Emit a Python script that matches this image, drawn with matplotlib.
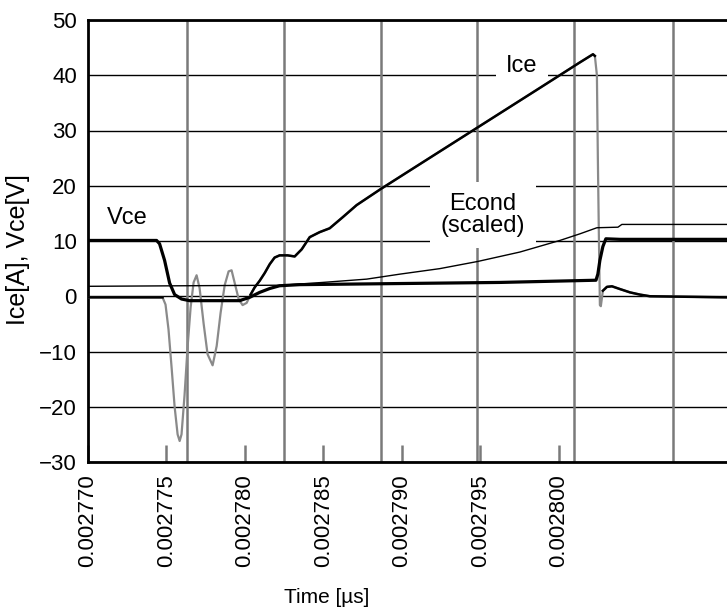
import matplotlib
matplotlib.use("Agg")
import matplotlib.pyplot as plt
import numpy as np

plt.rcParams['font.family'] = ['Liberation Sans', 'DejaVu Sans']

t0 = 0.002770  # start of the time axis

## Vce trace, time offsets in 1e-6 from t0
vce_u = [0, 4.37, 4.56, 4.88, 5.20, 5.52, 5.96, 6.47, 9.66, 10.30, 10.94, 11.58,
         12.21, 13.49, 19.87, 26.24, 32.37, 32.49, 32.62, 32.81, 33.00, 33.90, 40.72]
vce_v = [10.1, 10.1, 9.5, 6.5, 2.4, 0.3, -0.5, -0.8, -0.8, -0.2, 0.7, 1.4,
         1.9, 2.1, 2.3, 2.5, 2.9, 4.0, 6.5, 9.0, 10.4, 10.3, 10.3]

## Ice trace
ice_u = [0, 4.75, 4.94, 5.13, 5.33, 5.52, 5.71, 5.84, 5.96, 6.15, 6.35, 6.54,
         6.73, 6.92, 7.11, 7.37, 7.62, 7.94, 8.20, 8.45, 8.71, 8.96, 9.15, 9.34,
         9.60, 9.85, 10.11, 10.36, 10.62, 10.94, 11.26, 11.58, 11.89, 12.21,
         12.72, 13.17, 13.62, 14.13, 14.76, 15.40, 16.23, 17.12, 18.65, 21.14,
         23.69, 26.24, 28.79, 31.33, 32.18, 32.30, 32.43, 32.49, 32.56, 32.62,
         32.68, 32.81, 33.07, 33.39, 33.90, 34.54, 35.17, 35.81, 40.72]
ice_v = [-0.2, -0.2, -1.5, -6, -13, -20, -25, -26.2, -25, -18, -9, -2,
         2.5, 3.8, 1.5, -5, -10.5, -12.5, -9, -3, 2, 4.5, 4.7, 2.5,
         -0.5, -1.6, -1.2, 0.3, 1.6, 2.8, 4.2, 5.8, 7.0, 7.4,
         7.4, 7.2, 8.5, 10.7, 11.6, 12.3, 14.3, 16.5, 19.4, 23.9,
         28.5, 33.1, 37.7, 42.3, 43.8, 43.5, 40, 25, 10, -1.6,
         -1.8, 1.0, 1.7, 1.8, 1.3, 0.7, 0.3, 0.0, -0.2]

## Econd (scaled)
econd_u = [0, 12.40, 14.95, 17.76, 19.87, 22.42, 24.84, 27.52, 30.07, 31.35,
           32.43, 33.77, 34.02, 40.72]
econd_v = [1.8, 2.0, 2.5, 3.1, 4.0, 5.0, 6.3, 8.0, 10.1, 11.3,
           12.4, 12.5, 13.0, 13.0]

## scope divisions (vertical grid of the original trace)
scope_div = [0.0027763, 0.0027825, 0.0027887, 0.0027948, 0.0028010, 0.0028073]

x_ticks = [0.002770, 0.002775, 0.002780, 0.002785, 0.002790, 0.002795, 0.002800]
y_ticks = [-30, -20, -10, 0, 10, 20, 30, 40, 50]

vce_t = t0 + np.array(vce_u) * 1e-6
ice_t = t0 + np.array(ice_u) * 1e-6
econd_t = t0 + np.array(econd_u) * 1e-6
ice_v = np.array(ice_v, dtype=float)

fig = plt.figure(figsize=(7.27, 6.11), dpi=100)
ax = fig.add_axes([88 / 727, 149 / 611, 639 / 727, 442 / 611])

ax.set_xlim(t0, t0 + 40.72e-6)
ax.set_ylim(-30, 50)

for x in scope_div:
    ax.axvline(x, color='#7a7a7a', lw=1.8, zorder=1)
ax.set_yticks(y_ticks)
ax.yaxis.grid(True, color='black', lw=1.0, zorder=1)
ax.set_axisbelow(True)

# Ice: fast parts look grey on the scope
ax.plot(ice_t, ice_v, color='#8a8a8a', lw=1.6, zorder=3)
fast = ((np.array(ice_u) > 4.8) & (np.array(ice_u) < 10.3)) | \
       ((np.array(ice_u) > 32.4) & (np.array(ice_u) < 32.7))
ax.plot(ice_t, np.where(fast, np.nan, ice_v), color='black', lw=1.8, zorder=4)
ax.plot(vce_t, vce_v, color='black', lw=2.3, zorder=4)
ax.plot(econd_t, econd_v, color='black', lw=1.0, zorder=4)

box = dict(boxstyle='square,pad=0.45', fc='white', ec='none')
ax.text(t0 + 1.2e-6, 14.1, 'Vce', fontsize=17, ha='left', va='center', zorder=2)
ax.text(t0 + 27.65e-6, 41.6, 'Ice', fontsize=17, ha='center', va='center',
        bbox=box, zorder=2)
ax.text(t0 + 25.16e-6, 14.7, 'Econd\n(scaled)', fontsize=17, ha='center',
        va='center', linespacing=1.0, bbox=box, zorder=2)

ax.set_xticks(x_ticks)
ax.set_xticklabels(['%.6f' % x for x in x_ticks], rotation=90)
ax.tick_params(axis='x', direction='in', length=12, width=1.8, color='#7a7a7a',
               labelsize=16, pad=9)
ax.tick_params(axis='y', direction='in', length=0, labelsize=16, pad=8)

for s in ['left', 'bottom', 'top']:
    ax.spines[s].set_linewidth(2.0)
    ax.spines[s].set_color('black')
ax.spines['right'].set_visible(False)

ax.set_xlabel('Time [µs]', fontsize=15)
ax.xaxis.set_label_coords((327 - 88) / 639, -0.285)
ax.set_ylabel('Ice[A], Vce[V]', fontsize=18)
ax.yaxis.set_label_coords(-0.09, 0.48)

fig.savefig('out.png', dpi=100)
